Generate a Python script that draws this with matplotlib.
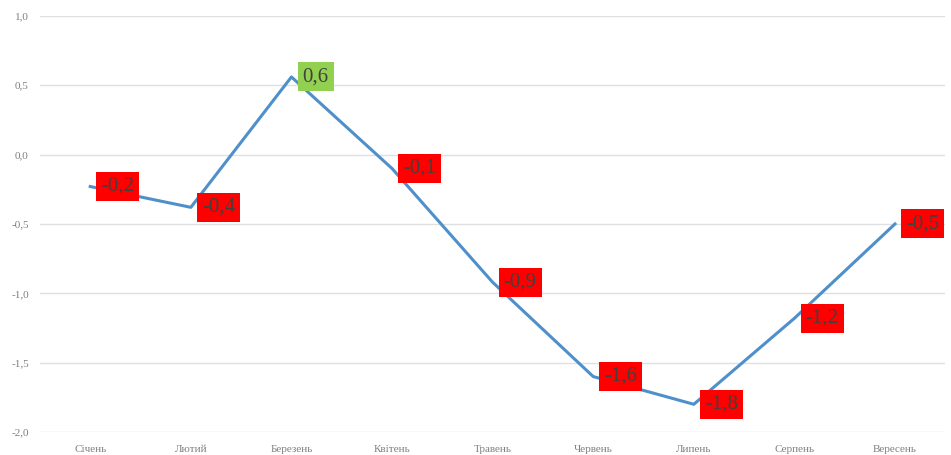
import matplotlib.pyplot as plt

months = ["Січень", "Лютий", "Березень", "Квітень", "Травень",
          "Червень", "Липень", "Серпень", "Вересень"]
values = [-0.23, -0.38, 0.56, -0.1, -0.92, -1.6, -1.8, -1.18, -0.5]
yticks = [1.0, 0.5, 0.0, -0.5, -1.0, -1.5, -2.0]

fig = plt.figure(figsize=(9.51, 4.55), dpi=100)
ax = fig.add_axes([0.042, 0.0505, 0.952, 0.9145])

x = list(range(len(months)))
ax.plot(x, values, color="#4f8fca", linewidth=2.2, solid_joinstyle="round")

# Data labels: green for positive, red for negative
for xi, v in zip(x, values):
    face = "#92d050" if v > 0 else "#ff0000"
    txt = f"{v:.1f}".replace(".", ",")
    ax.annotate(txt, (xi, v), xytext=(8, 0), textcoords="offset points",
                ha="left", va="center", fontsize=15, color="#404040",
                family="Liberation Serif",
                bbox=dict(boxstyle="square,pad=0.24", fc=face, ec="none"))

ax.set_xlim(-0.5, len(months) - 0.5)
ax.set_ylim(-2.0, 1.0)
ax.set_xticks(x)
ax.set_xticklabels(months, family="Liberation Serif", fontsize=8, color="#7f7f7f")
ax.set_yticks(yticks)
ax.set_yticklabels([f"{t:.1f}".replace(".", ",") for t in yticks],
                   family="Liberation Serif", fontsize=8, color="#7f7f7f")
ax.tick_params(axis="y", length=0, pad=8)
ax.tick_params(axis="x", length=0, pad=9)
ax.grid(axis="y", color="#e0e0e0", linewidth=1)
ax.set_axisbelow(True)
for s in ax.spines.values():
    s.set_visible(False)

fig.savefig("out.png", dpi=100)
